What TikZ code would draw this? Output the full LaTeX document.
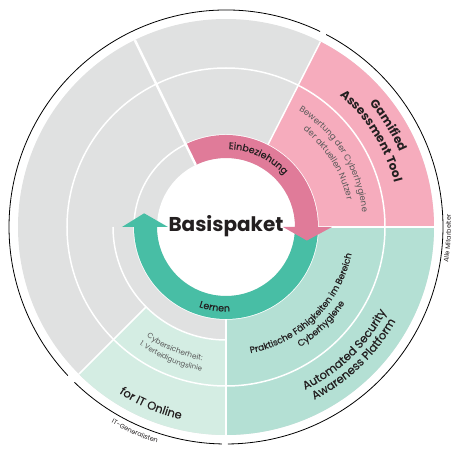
\documentclass[tikz,border=0pt]{standalone}
\usepackage{fontspec}
\setmainfont{Poppins}
\newfontfamily\mittel{Poppins}[FakeBold=0.35]
\usetikzlibrary{decorations.text}
\usetikzlibrary{calc}

\definecolor{grau}{RGB}{224,225,225}
\definecolor{rosa}{RGB}{246,172,189}
\definecolor{rosadunkel}{RGB}{224,123,153}
\definecolor{gruen}{RGB}{72,190,165}
\definecolor{tuerkis}{RGB}{180,224,212}
\definecolor{mint}{RGB}{212,237,227}
\definecolor{tinte}{RGB}{35,31,32}
\definecolor{grautext}{RGB}{88,88,88}

\begin{document}
\begin{tikzpicture}[x=1pt,y=1pt]
		\tikzstyle{trenner}=[draw=white,line width=1.5pt]
		\tikzstyle{rand}=[draw=black,line width=0.8pt]
		\tikzstyle{bogentext}=[decorate,decoration={text along path,text align=center,text color=tinte}]
		
		\useasboundingbox (-226,-223) rectangle (225,227);
		
		\fill[grau] (0,0) circle[radius=208];
		\foreach \farbe/\von/\bis/\innen in {rosa/0/63/92, tuerkis/-90/0/92, mint/225/270/113}
			\fill[\farbe] (\von:\innen) arc[start angle=\von,end angle=\bis,radius=\innen] -- (\bis:208) arc[start angle=\bis,end angle=\von,radius=208] -- cycle;
		
		\draw[trenner] (0,0) circle[radius=92];
		\draw[trenner] (0,0) circle[radius=159];
		\draw[trenner] (180:113) arc[start angle=180,end angle=270,radius=113];
		\foreach \winkel/\innen in {0/92, 63/92, 270/92, 225/113}
			\draw[trenner] (\winkel:\innen) -- (\winkel:208);
		
		\fill[white] (0,0) circle[radius=69];
		\fill[gruen] (0:92) arc[start angle=0,end angle=-180,radius=92] -- (180:104) -- (170.5:83) -- (180:58) -- (180:69) arc[start angle=180,end angle=360,radius=69] -- cycle;
		\fill[rosadunkel] (116:92) arc[start angle=116,end angle=0,radius=92] -- (0:106) -- (-9.5:82) -- (0:57) -- (0:69) arc[start angle=0,end angle=116,radius=69] -- cycle;
		\draw[trenner,line width=2.5pt] (116:69) -- (116:208);
		
		\node[font=\bfseries\fontsize{20}{24}\selectfont,text=tinte] (basis) at (0,1) {Basispaket};
		
		\path[bogentext,decoration={text={|\mittel\fontsize{9.5}{11}\selectfont|Einbeziehung}}] (125:78) arc[start angle=125,end angle=5,radius=78];
		\path[bogentext,decoration={text={|\mittel\fontsize{9.5}{11}\selectfont|Lernen}}] (212:84.5) arc[start angle=212,end angle=312,radius=84.5];
		
		\path[bogentext,decoration={text={|\bfseries\fontsize{12}{14}\selectfont|Gamified}}] (82:189) arc[start angle=82,end angle=-18,radius=189];
		\path[bogentext,decoration={text={|\bfseries\fontsize{12}{14}\selectfont|Assessment Tool}}] (82:174) arc[start angle=82,end angle=-18,radius=174];
		\path[bogentext,decoration={text color=grautext,text={|\fontsize{8.5}{10}\selectfont|Bewertung der Cyberhygiene}}] (92:137) arc[start angle=92,end angle=-28,radius=137];
		\path[bogentext,decoration={text color=grautext,text={|\fontsize{8.5}{10}\selectfont|der aktuellen Nutzer}}] (92:124) arc[start angle=92,end angle=-28,radius=124];
		
		\path[bogentext,decoration={text={|\mittel\fontsize{9}{11}\selectfont|Praktische Fähigkeiten im Bereich}}] (-110:128.5) arc[start angle=-110,end angle=19,radius=128.5];
		\path[bogentext,decoration={text={|\mittel\fontsize{9}{11}\selectfont|Cyberhygiene}}] (-110:141) arc[start angle=-110,end angle=19,radius=141];
		\path[bogentext,decoration={text={|\mittel\fontsize{11.5}{13}\selectfont|Automated Security}}] (-106:181) arc[start angle=-106,end angle=14,radius=181];
		\path[bogentext,decoration={text={|\mittel\fontsize{11.5}{13}\selectfont|Awareness Platform}}] (-106:194) arc[start angle=-106,end angle=14,radius=194];
		
		\path[bogentext,decoration={text color=grautext,text={|\fontsize{7.5}{9}\selectfont|Cybersicherheit:}}] (207:135.5) arc[start angle=207,end angle=287,radius=135.5];
		\path[bogentext,decoration={text color=grautext,text={|\fontsize{7}{9}\selectfont|1. Verteidigungslinie}}] (207:146) arc[start angle=207,end angle=287,radius=146];
		\path[bogentext,decoration={text={|\mittel\fontsize{11.5}{13}\selectfont|for IT Online}}] (212:197.5) arc[start angle=212,end angle=282,radius=197.5];
		
		\draw[rand] (64.3:217) arc[start angle=64.3,end angle=223.2,radius=217];
		\draw[rand] (225.7:217) arc[start angle=225.7,end angle=268.9,radius=217];
		\draw[rand] (270.5:217) arc[start angle=270.5,end angle=422.5,radius=217];
		\path[bogentext,decoration={text={|\fontsize{6.5}{8}\selectfont|IT-Generalisten}}] (216:227) arc[start angle=216,end angle=276,radius=227];
		\path[bogentext,decoration={text={|\fontsize{6.5}{8}\selectfont|Alle Mitarbeiter}}] (-33:225) arc[start angle=-33,end angle=27,radius=225];
\end{tikzpicture}
\end{document}
